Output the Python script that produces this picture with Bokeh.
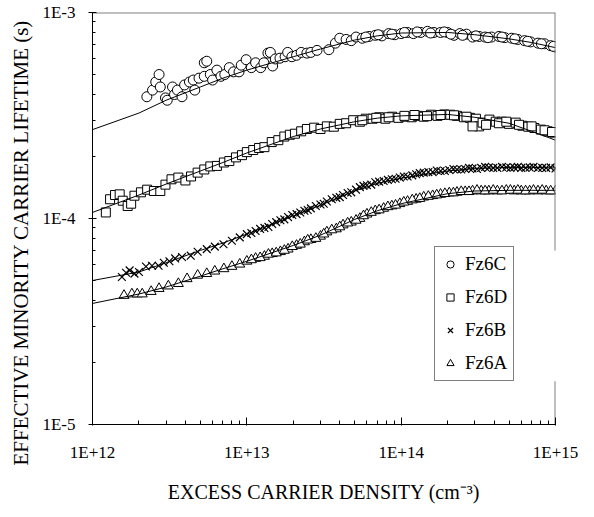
from bokeh.plotting import figure
from bokeh.models import Range1d, FixedTicker, CustomJSTickFormatter, Legend, LegendItem, Title
from bokeh.embed import file_html
from bokeh.resources import INLINE

# ---------------- data ----------------
X_RANGE = (1e12, 1e15)
Y_RANGE = (1e-5, 1e-3)
x_major = [1e12, 1e13, 1e14, 1e15]
y_major = [1e-5, 1e-4, 1e-3]

fz6c_x = [2.25e12, 2.45e12, 2.57e12, 2.7e12, 2.75e12, 2.97e12, 3.05e12, 3.3e12, 3.4e12, 3.55e12,
          3.8e12, 3.95e12, 4.25e12, 4.5e12, 4.6e12, 4.9e12, 5.3e12, 5.5e12, 5.3e12, 5.8e12,
          6.0e12, 6.4e12, 6.8e12, 7.2e12, 7.7e12, 8.2e12, 8.9e12, 9.2e12, 9.9e12, 1.07e13,
          1.14e13, 1.23e13, 1.29e13, 1.37e13, 1.42e13, 1.47e13, 1.53e13, 1.64e13, 1.77e13, 1.84e13,
          1.96e13, 2.1e13, 2.25e13, 2.45e13, 2.6e13, 2.85e13, 3.4e13, 3.75e13, 4.0e13, 4.4e13,
          4.75e13, 5.1e13, 5.6e13, 6.2e13, 6.8e13, 7.5e13, 8.3e13, 9.1e13, 1.0e14, 1.1e14,
          1.2e14, 1.34e14, 1.48e14, 1.63e14, 1.8e14, 2.0e14, 2.2e14, 2.4e14, 2.65e14, 2.9e14,
          3.2e14, 3.5e14, 3.85e14, 4.3e14, 4.7e14, 5.2e14, 5.7e14, 6.3e14, 6.9e14, 7.7e14,
          8.5e14, 9.3e14, 1.0e15,
          1.05e14, 1.27e14, 1.55e14, 1.9e14, 2.1e14, 2.5e14, 3.05e14, 3.65e14, 4.5e14, 5.45e14,
          6.6e14, 8.1e14, 9.7e14, 5.9e13, 7.1e13, 8.7e13]
fz6c_y = [3.9e-4, 4.2e-4, 4.6e-4, 5.0e-4, 4.35e-4, 3.85e-4, 3.75e-4, 4.35e-4, 4.0e-4, 4.2e-4,
          3.9e-4, 4.45e-4, 4.6e-4, 4.7e-4, 4.2e-4, 4.8e-4, 5.7e-4, 5.8e-4, 4.9e-4, 5.0e-4,
          4.7e-4, 5.25e-4, 4.9e-4, 5.0e-4, 5.4e-4, 5.15e-4, 5.15e-4, 5.55e-4, 5.9e-4, 5.4e-4,
          5.7e-4, 5.4e-4, 5.7e-4, 6.35e-4, 6.4e-4, 5.5e-4, 5.95e-4, 6.0e-4, 6.1e-4, 6.4e-4,
          6.1e-4, 6.2e-4, 6.4e-4, 6.35e-4, 6.4e-4, 6.55e-4, 6.6e-4, 7.1e-4, 7.5e-4, 7.4e-4,
          7.3e-4, 7.6e-4, 7.5e-4, 7.65e-4, 7.75e-4, 7.7e-4, 7.9e-4, 7.8e-4, 7.9e-4, 8.0e-4,
          7.9e-4, 8.0e-4, 8.1e-4, 8.0e-4, 8.0e-4, 8.0e-4, 7.75e-4, 7.9e-4, 7.85e-4, 7.6e-4,
          7.65e-4, 7.6e-4, 7.6e-4, 7.65e-4, 7.55e-4, 7.5e-4, 7.4e-4, 7.3e-4, 7.2e-4, 7.1e-4,
          7.05e-4, 6.9e-4, 6.8e-4,
          8.0e-4, 8.05e-4, 7.95e-4, 8.05e-4, 7.85e-4, 7.75e-4, 7.7e-4, 7.55e-4, 7.6e-4, 7.45e-4,
          7.25e-4, 7.05e-4, 6.85e-4, 7.6e-4, 7.8e-4, 7.85e-4]

fz6d_x = [1.22e12, 1.3e12, 1.4e12, 1.5e12, 1.57e12, 1.69e12, 1.78e12, 1.87e12, 2.06e12, 2.26e12,
          2.5e12, 2.75e12, 2.97e12, 3.25e12, 3.6e12, 4.0e12, 4.35e12, 4.8e12, 5.3e12, 5.8e12,
          6.4e12, 7.1e12, 7.7e12, 8.5e12, 9.3e12, 1.0e13, 1.1e13, 1.2e13, 1.3e13, 1.45e13,
          1.6e13, 1.75e13, 1.9e13, 2.05e13, 2.25e13, 2.45e13, 2.73e13, 3.0e13, 3.3e13, 3.66e13,
          4.0e13, 4.4e13, 4.89e13, 5.4e13, 5.9e13, 6.53e13, 7.2e13, 7.9e13, 8.73e13, 9.6e13,
          1.06e14, 1.17e14, 1.28e14, 1.4e14, 1.56e14, 1.72e14, 1.9e14, 2.08e14, 2.3e14, 2.55e14,
          2.79e14, 3.05e14, 3.2e14, 3.37e14, 3.73e14, 4.1e14, 4.5e14, 5.0e14, 5.52e14, 6.1e14,
          6.66e14, 7.3e14, 8.04e14, 8.9e14, 9.86e14,
          1.05e14, 1.22e14, 1.47e14, 1.8e14, 2.2e14, 2.65e14, 2.9e14, 3.55e14, 4.3e14, 4.8e14,
          5.8e14, 7.0e14, 8.5e14, 9.5e14, 5.6e13, 6.9e13, 8.3e13]
fz6d_y = [1.07e-4, 1.24e-4, 1.3e-4, 1.31e-4, 1.22e-4, 1.15e-4, 1.18e-4, 1.29e-4, 1.34e-4, 1.38e-4,
          1.36e-4, 1.36e-4, 1.46e-4, 1.55e-4, 1.58e-4, 1.53e-4, 1.6e-4, 1.67e-4, 1.73e-4, 1.79e-4,
          1.8e-4, 1.87e-4, 1.9e-4, 1.98e-4, 2.03e-4, 2.1e-4, 2.15e-4, 2.2e-4, 2.22e-4, 2.35e-4,
          2.4e-4, 2.5e-4, 2.55e-4, 2.58e-4, 2.65e-4, 2.72e-4, 2.76e-4, 2.72e-4, 2.8e-4, 2.79e-4,
          2.88e-4, 2.9e-4, 3.0e-4, 2.95e-4, 3.05e-4, 3.05e-4, 3.1e-4, 3.05e-4, 3.12e-4, 3.08e-4,
          3.12e-4, 3.1e-4, 3.15e-4, 3.12e-4, 3.19e-4, 3.15e-4, 3.2e-4, 3.19e-4, 3.15e-4, 3.1e-4,
          3.08e-4, 3.05e-4, 2.8e-4, 2.92e-4, 3.02e-4, 2.95e-4, 2.95e-4, 2.88e-4, 2.92e-4, 2.82e-4,
          2.79e-4, 2.75e-4, 2.7e-4, 2.65e-4, 2.61e-4,
          3.15e-4, 3.18e-4, 3.14e-4, 3.18e-4, 3.17e-4, 3.12e-4, 2.8e-4, 2.85e-4, 2.9e-4, 2.95e-4,
          2.85e-4, 2.8e-4, 2.68e-4, 2.63e-4, 3.0e-4, 3.08e-4, 3.1e-4]

fz6b_x = [1.55e12, 1.65e12, 1.74e12, 1.87e12, 2.0e12, 2.22e12, 2.43e12, 2.68e12, 2.9e12, 3.15e12,
          3.43e12, 3.8e12, 4.33e12, 4.8e12, 5.5e12, 6.2e12, 7.06e12, 8.0e12, 9.0e12, 1.0e13,
          1.14e13, 1.3e13, 1.46e13, 1.65e13, 1.85e13, 2.1e13, 2.36e13, 2.6e13, 3.0e13, 3.3e13,
          3.8e13, 4.2e13, 4.75e13, 5.4e13, 6.0e13, 6.8e13, 7.7e13, 8.7e13, 9.8e13, 1.1e14,
          1.25e14, 1.4e14, 1.6e14, 1.8e14, 2.05e14, 2.3e14, 2.6e14, 2.9e14, 3.3e14, 3.7e14,
          4.2e14, 4.8e14, 5.4e14, 6.0e14, 6.8e14, 7.7e14, 8.7e14, 1.0e15,
          1.07e13, 1.22e13, 1.38e13, 1.55e13, 1.75e13, 1.97e13, 2.22e13, 2.48e13, 2.8e13, 3.15e13,
          3.55e13, 4.0e13, 4.5e13, 5.1e13, 5.7e13, 6.4e13, 7.2e13, 8.2e13, 9.2e13, 1.04e14,
          1.18e14, 1.32e14, 1.5e14, 1.7e14, 1.92e14, 2.18e14, 2.45e14, 2.75e14, 3.1e14, 3.5e14,
          3.95e14, 4.5e14, 5.1e14, 5.7e14, 6.4e14, 7.2e14, 8.2e14, 9.3e14]
fz6b_y = [5.2e-5, 5.45e-5, 5.6e-5, 5.4e-5, 5.5e-5, 5.85e-5, 5.9e-5, 5.9e-5, 6.1e-5, 6.2e-5,
          6.4e-5, 6.5e-5, 6.6e-5, 6.9e-5, 7.1e-5, 7.3e-5, 7.5e-5, 7.8e-5, 8.1e-5, 8.4e-5,
          8.7e-5, 9.0e-5, 9.4e-5, 9.8e-5, 1.016e-4, 1.05e-4, 1.09e-4, 1.12e-4, 1.17e-4, 1.21e-4,
          1.26e-4, 1.3e-4, 1.34e-4, 1.42e-4, 1.45e-4, 1.5e-4, 1.52e-4, 1.55e-4, 1.58e-4, 1.6e-4,
          1.64e-4, 1.67e-4, 1.68e-4, 1.7e-4, 1.72e-4, 1.73e-4, 1.74e-4, 1.75e-4, 1.76e-4, 1.77e-4,
          1.76e-4, 1.77e-4, 1.77e-4, 1.76e-4, 1.77e-4, 1.76e-4, 1.76e-4, 1.75e-4,
          8.5e-5, 8.9e-5, 9.1e-5, 9.6e-5, 9.9e-5, 1.04e-4, 1.07e-4, 1.1e-4, 1.15e-4, 1.18e-4,
          1.24e-4, 1.27e-4, 1.33e-4, 1.38e-4, 1.44e-4, 1.46e-4, 1.51e-4, 1.54e-4, 1.56e-4, 1.6e-4,
          1.62e-4, 1.66e-4, 1.68e-4, 1.71e-4, 1.7e-4, 1.74e-4, 1.73e-4, 1.76e-4, 1.74e-4, 1.78e-4,
          1.76e-4, 1.78e-4, 1.76e-4, 1.78e-4, 1.76e-4, 1.78e-4, 1.76e-4, 1.77e-4]

fz6a_x = [1.6e12, 1.8e12, 1.95e12, 2.1e12, 2.4e12, 2.7e12, 3.1e12, 3.6e12, 4.1e12, 4.8e12,
          5.5e12, 6.2e12, 7.1e12, 8.0e12, 9.0e12, 1.0e13, 1.14e13, 1.3e13, 1.46e13, 1.65e13,
          1.85e13, 2.1e13, 2.36e13, 2.6e13, 3.0e13, 3.3e13, 3.8e13, 4.2e13, 4.75e13, 5.4e13,
          6.0e13, 6.8e13, 7.7e13, 8.7e13, 9.8e13, 1.1e14, 1.25e14, 1.4e14, 1.6e14, 1.8e14,
          2.05e14, 2.3e14, 2.6e14, 2.9e14, 3.3e14, 3.7e14, 4.2e14, 4.8e14, 5.4e14, 6.0e14,
          6.8e14, 7.7e14, 8.7e14, 1.0e15,
          1.07e13, 1.22e13, 1.38e13, 1.55e13, 1.75e13, 1.97e13, 2.22e13, 2.48e13, 2.8e13, 3.15e13,
          3.55e13, 4.0e13, 4.5e13, 5.1e13, 5.7e13, 6.4e13, 7.2e13, 8.2e13, 9.2e13, 1.04e14,
          1.18e14, 1.32e14, 1.5e14, 1.7e14, 1.92e14, 2.18e14, 2.45e14, 2.75e14, 3.1e14, 3.5e14,
          3.95e14, 4.5e14, 5.1e14, 5.7e14, 6.4e14, 7.2e14, 8.2e14, 9.3e14]
fz6a_y = [4.23e-5, 4.3e-5, 4.3e-5, 4.3e-5, 4.42e-5, 4.57e-5, 4.7e-5, 4.83e-5, 5.1e-5, 5.3e-5,
          5.4e-5, 5.55e-5, 5.7e-5, 5.85e-5, 6.0e-5, 6.2e-5, 6.4e-5, 6.55e-5, 6.75e-5, 6.9e-5,
          7.1e-5, 7.4e-5, 7.7e-5, 7.9e-5, 8.2e-5, 8.6e-5, 8.9e-5, 9.3e-5, 9.6e-5, 1.0e-4,
          1.05e-4, 1.09e-4, 1.12e-4, 1.15e-4, 1.18e-4, 1.21e-4, 1.24e-4, 1.27e-4, 1.29e-4, 1.31e-4,
          1.33e-4, 1.34e-4, 1.35e-4, 1.36e-4, 1.36e-4, 1.36e-4, 1.36e-4, 1.37e-4, 1.36e-4, 1.36e-4,
          1.36e-4, 1.36e-4, 1.36e-4, 1.36e-4,
          6.3e-5, 6.45e-5, 6.7e-5, 6.8e-5, 7.0e-5, 7.3e-5, 7.5e-5, 7.85e-5, 8.0e-5, 8.4e-5,
          8.8e-5, 9.1e-5, 9.5e-5, 9.8e-5, 1.03e-4, 1.07e-4, 1.1e-4, 1.14e-4, 1.16e-4, 1.2e-4,
          1.23e-4, 1.25e-4, 1.28e-4, 1.3e-4, 1.32e-4, 1.33e-4, 1.35e-4, 1.35e-4, 1.37e-4, 1.36e-4,
          1.37e-4, 1.36e-4, 1.37e-4, 1.37e-4, 1.36e-4, 1.37e-4, 1.37e-4, 1.36e-4]

# fitted (model) curves
fit_x = [1e12, 2e12, 3e12, 5e12, 7e12, 1e13, 2e13, 3e13, 5e13, 7e13, 1e14, 2e14, 3e14, 5e14, 7e14, 1e15]
fit_c = [2.7e-4, 3.25e-4, 3.75e-4, 4.35e-4, 4.8e-4, 5.25e-4, 6.1e-4, 6.65e-4, 7.35e-4, 7.7e-4,
         7.95e-4, 8.0e-4, 7.8e-4, 7.45e-4, 7.15e-4, 6.75e-4]
fit_d = [1.07e-4, 1.3e-4, 1.47e-4, 1.7e-4, 1.87e-4, 2.08e-4, 2.5e-4, 2.72e-4, 2.95e-4, 3.07e-4,
         3.15e-4, 3.2e-4, 3.1e-4, 2.9e-4, 2.65e-4, 2.4e-4]
fit_b = [5.0e-5, 5.5e-5, 6.1e-5, 7.0e-5, 7.6e-5, 8.4e-5, 1.03e-4, 1.16e-4, 1.36e-4, 1.48e-4,
         1.57e-4, 1.7e-4, 1.75e-4, 1.77e-4, 1.77e-4, 1.76e-4]
fit_a = [3.87e-5, 4.3e-5, 4.65e-5, 5.25e-5, 5.7e-5, 6.2e-5, 7.4e-5, 8.3e-5, 9.9e-5, 1.09e-4,
         1.18e-4, 1.32e-4, 1.36e-4, 1.37e-4, 1.37e-4, 1.37e-4]

series_labels = ["Fz6C", "Fz6D", "Fz6B", "Fz6A"]
x_title = "EXCESS CARRIER DENSITY (cm\u207b\u00b3)"
y_title = "EFFECTIVE MINORITY CARRIER LIFETIME (s)"

# right frame border is interrupted where the legend sits in the original
right_border_gap = (1.62e-5, 7.0e-5)

# ---------------- figure ----------------
FONT = "Liberation Serif"
p = figure(x_axis_type="log", y_axis_type="log",
           x_range=Range1d(*X_RANGE), y_range=Range1d(*Y_RANGE),
           width=578, height=501,
           frame_width=463, frame_height=412,
           min_border_left=92, min_border_right=23, min_border_top=12, min_border_bottom=77,
           output_backend="svg", toolbar_location=None)
p.grid.visible = False
p.outline_line_color = None
p.background_fill_color = "white"
p.border_fill_color = "white"

r_c = p.scatter(fz6c_x, fz6c_y, marker="circle", size=10, line_color="black", fill_color="white", line_width=1)
r_d = p.scatter(fz6d_x, fz6d_y, marker="square", size=9, line_color="black", fill_color="white", line_width=1)
r_b = p.scatter(fz6b_x, fz6b_y, marker="x", size=11, line_color="black", line_width=1.2)
r_a = p.scatter(fz6a_x, fz6a_y, marker="triangle", size=10, line_color="black", fill_color="white", line_width=1)

for fy in (fit_c, fit_d, fit_b, fit_a):
    p.line(fit_x, fy, line_color="black", line_width=1)

# top and right frame borders (grey)
p.segment(x0=[X_RANGE[0], X_RANGE[1], X_RANGE[1]],
          y0=[Y_RANGE[1], Y_RANGE[1], right_border_gap[0]],
          x1=[X_RANGE[1], X_RANGE[1], X_RANGE[1]],
          y1=[Y_RANGE[1], right_border_gap[1], Y_RANGE[0]],
          line_color="#808080", line_width=2)

fmt = CustomJSTickFormatter(code="""
const e = Math.round(Math.log10(tick));
return '1E' + (e >= 0 ? '+' : '') + e;
""")

x_minor = [m * d for d in x_major[:-1] for m in range(2, 10)]
y_minor = [m * d for d in y_major[:-1] for m in range(2, 10)]

xa = p.xaxis[0]
xa.ticker = FixedTicker(ticks=x_major, minor_ticks=x_minor)
xa.formatter = fmt
xa.axis_label = x_title
xa.major_tick_in = 7
xa.major_tick_out = 1
xa.minor_tick_in = 4
xa.minor_tick_out = 0
xa.major_label_standoff = 17
xa.axis_label_standoff = 16

ya = p.yaxis[0]
ya.ticker = FixedTicker(ticks=y_major, minor_ticks=y_minor)
ya.formatter = fmt
ya.major_tick_in = 4
ya.major_tick_out = 4
ya.minor_tick_in = 3
ya.minor_tick_out = 0
ya.major_label_standoff = 13

for ax in (xa, ya):
    ax.axis_line_color = "black"
    ax.axis_line_width = 1
    ax.major_tick_line_color = "black"
    ax.minor_tick_line_color = "black"
    ax.major_label_text_font = FONT
    ax.major_label_text_font_size = "17px"
    ax.major_label_text_color = "black"
    ax.axis_label_text_font = FONT
    ax.axis_label_text_font_style = "normal"
    ax.axis_label_text_color = "black"
xa.axis_label_text_font_size = "20px"

# y-axis title: starts a little below the frame bottom, as in the reference
p.add_layout(Title(text=y_title, align="left", offset=-41, vertical_align="middle", standoff=11,
                   text_font=FONT, text_font_size="21px", text_font_style="normal",
                   text_color="black"), "left")

legend = Legend(items=[LegendItem(label=lab, renderers=[r]) for lab, r in
                       zip(series_labels, [r_c, r_d, r_b, r_a])],
                location=(342, 43))
legend.border_line_color = "black"
legend.border_line_width = 1
legend.background_fill_color = "white"
legend.background_fill_alpha = 1
legend.label_text_font = FONT
legend.label_text_font_size = "19px"
legend.label_text_color = "black"
legend.glyph_width = 18
legend.glyph_height = 20
legend.label_height = 20
legend.spacing = 11
legend.padding = 6
legend.label_standoff = 6
legend.margin = 0
p.add_layout(legend)

open("out.html", "w").write(file_html(p, INLINE))
